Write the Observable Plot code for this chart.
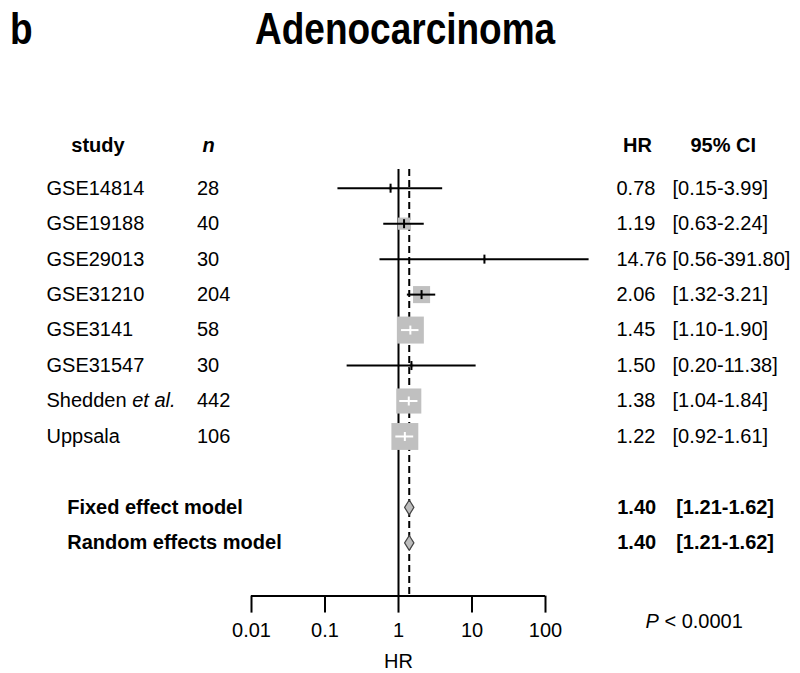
<!DOCTYPE html>
<html>
<head>
<meta charset="utf-8">
<script src="https://cdn.jsdelivr.net/npm/d3@7"></script>
<script src="https://cdn.jsdelivr.net/npm/@observablehq/plot@0.6"></script>
<style>
  html, body { margin: 0; padding: 0; background: #fff; }
  #title { position: relative; width: 800px; height: 70px; font-family: "Liberation Sans", Arial, sans-serif; font-weight: bold; color: #000; }
  #title span { position: absolute; display: inline-block; font-size: 37px; line-height: 37px; white-space: nowrap; transform: scaleY(1.2); transform-origin: 0 31.3px; }
</style>
</head>
<body>
<div id="title"><span style="left:10px;top:12.7px;">b</span><span style="left:255px;top:12.7px;">Adenocarcinoma</span></div>
<div id="chart"></div>
<script>
// ---- data ----
const studies = ["GSE14814", "GSE19188", "GSE29013", "GSE31210", "GSE3141", "GSE31547", "Shedden et al.", "Uppsala"];
const nValues = [28, 40, 30, 204, 58, 30, 442, 106];
const hrValues = [0.78, 1.19, 14.76, 2.06, 1.45, 1.50, 1.38, 1.22];
const ciLower = [0.15, 0.63, 0.56, 1.32, 1.10, 0.20, 1.04, 0.92];
const ciUpper = [3.99, 2.24, 391.80, 3.21, 1.90, 11.38, 1.84, 1.61];
const weights = [0.5, 5.8, 0.3, 11.4, 28.5, 0.6, 24.6, 28.3]; // % weight (box area)

const models = ["Fixed effect model", "Random effects model"];
const modelHr = [1.40, 1.40];
const modelLower = [1.21, 1.21];
const modelUpper = [1.62, 1.62];

const xTicks = [0.01, 0.1, 1, 10, 100];
const xLabel = "HR";
const headers = {study: "study", n: "n", hr: "HR", ci: "95% CI"};
const pText = "P < 0.0001";

// ---- layout (row units) ----
const headerRow = -1.2;
const modelRowStart = 9;
const axisRow = 11.5;
const refTop = -0.53;
const maxBox = 27; // px side of largest box
const diamondHalf = 0.21;

const fmt = v => v.toFixed(2);
const studyRows = studies.map((s, i) => ({
  study: s, n: nValues[i], hr: hrValues[i], lower: ciLower[i], upper: ciUpper[i], w: weights[i], row: i
}));
const maxW = d3.max(weights);
const xs = d3.scaleLog([xTicks[0], xTicks[xTicks.length - 1]], [251, 545]);
studyRows.forEach(d => {
  const side = maxBox * Math.sqrt(d.w / maxW);
  d.inside = xs(d.upper) - xs(d.lower) <= side;
});
const modelRows = models.map((m, i) => ({model: m, hr: modelHr[i], lower: modelLower[i], upper: modelUpper[i], row: modelRowStart + i}));
const diamondPts = modelRows.flatMap(d => [
  {model: d.model, x: d.lower, y: d.row},
  {model: d.model, x: d.hr, y: d.row - diamondHalf},
  {model: d.model, x: d.upper, y: d.row},
  {model: d.model, x: d.hr, y: d.row + diamondHalf}
]);

const vtick = {
  draw(context, size) {
    const r = Math.sqrt(size / Math.PI);
    context.moveTo(0, -r);
    context.lineTo(0, r);
  }
};

const FS = 20;
const chart = Plot.plot({
  width: 800,
  height: 603,
  marginLeft: 251,
  marginRight: 255,
  marginTop: 0,
  marginBottom: 77.4,
  style: {fontFamily: "'Liberation Sans', Arial, sans-serif", color: "#000", background: "#fff", overflow: "visible"},
  x: {type: "log", domain: [xTicks[0], xTicks[xTicks.length - 1]], range: [251, 545]},
  y: {domain: [-3.318, axisRow], range: [0, 525.6], axis: null},
  r: {type: "sqrt", domain: [0, maxW], range: [0, maxBox / Math.sqrt(Math.PI)]},
  marks: [
    // reference lines
    Plot.ruleX([1], {y1: refTop, y2: axisRow, stroke: "#000", strokeWidth: 2}),
    Plot.ruleX([modelHr[0]], {y1: refTop, y2: axisRow, stroke: "#000", strokeWidth: 2, strokeDasharray: "7,4"}),
    // weight boxes
    Plot.dot(studyRows, {x: "hr", y: "row", r: "w", symbol: "square", fill: "#c0c0c0", stroke: null}),
    // CI lines
    Plot.ruleY(studyRows, {filter: d => !d.inside, y: "row", x1: "lower", x2: "upper", stroke: "#000", strokeWidth: 2}),
    Plot.ruleY(studyRows, {filter: d => d.inside, y: "row", x1: "lower", x2: "upper", stroke: "#fff", strokeWidth: 2}),
    // estimate ticks
    Plot.dot(studyRows, {filter: d => !d.inside, x: "hr", y: "row", r: 4.5, symbol: vtick, fill: "none", stroke: "#000", strokeWidth: 2}),
    Plot.dot(studyRows, {filter: d => d.inside, x: "hr", y: "row", r: 4.5, symbol: vtick, fill: "none", stroke: "#fff", strokeWidth: 2}),
    // diamonds
    Plot.line(diamondPts, {x: "x", y: "y", z: "model", curve: "linear-closed", fill: "#bdbdbd", stroke: "#444", strokeWidth: 1.2}),
    // axis
    Plot.ruleY([axisRow], {x1: xTicks[0], x2: xTicks[xTicks.length - 1], stroke: "#000", strokeWidth: 2}),
    Plot.axisX({ticks: xTicks, tickFormat: d => String(d), tickSize: 17, tickPadding: 10, fontSize: FS, strokeWidth: 2, label: null}),
    Plot.text([xLabel], {frameAnchor: "bottom", dy: 72, fontSize: FS}),
    // left columns
    Plot.text([headers.study], {y: headerRow, frameAnchor: "left", dx: -153.5, textAnchor: "middle", fontSize: FS, fontWeight: "bold"}),
    Plot.text([headers.n], {y: headerRow, frameAnchor: "left", dx: -43, textAnchor: "middle", fontSize: FS, fontWeight: "bold", fontStyle: "italic"}),
    Plot.text(studyRows, {y: "row", text: "study", frameAnchor: "left", dx: -205, textAnchor: "start", fontSize: FS}),
    Plot.text(studyRows, {y: "row", text: d => String(d.n), frameAnchor: "left", dx: -54.5, textAnchor: "start", fontSize: FS}),
    Plot.text(modelRows, {y: "row", text: "model", frameAnchor: "left", dx: -184.3, textAnchor: "start", fontSize: FS, fontWeight: "bold"}),
    // right columns
    Plot.text([headers.hr], {y: headerRow, frameAnchor: "right", dx: 92, textAnchor: "middle", fontSize: FS, fontWeight: "bold"}),
    Plot.text([headers.ci], {y: headerRow, frameAnchor: "right", dx: 177.7, textAnchor: "middle", fontSize: FS, fontWeight: "bold"}),
    Plot.text(studyRows, {y: "row", text: d => fmt(d.hr), frameAnchor: "right", dx: 71, textAnchor: "start", fontSize: FS}),
    Plot.text(studyRows, {y: "row", text: d => `[${fmt(d.lower)}-${fmt(d.upper)}]`, frameAnchor: "right", dx: 127, textAnchor: "start", fontSize: FS}),
    Plot.text(modelRows, {y: "row", text: d => fmt(d.hr), frameAnchor: "right", dx: 71.7, textAnchor: "start", fontSize: FS, fontWeight: "bold"}),
    Plot.text(modelRows, {y: "row", text: d => `[${fmt(d.lower)}-${fmt(d.upper)}]`, frameAnchor: "right", dx: 130.7, textAnchor: "start", fontSize: FS, fontWeight: "bold"}),
    Plot.text([pText], {frameAnchor: "bottom-right", dx: 100, dy: 32, textAnchor: "start", fontSize: FS})
  ]
});

// italic fragments
const NS = "http://www.w3.org/2000/svg";
chart.querySelectorAll("text").forEach(t => {
  const s = t.textContent;
  if (s === "Shedden et al.") {
    t.textContent = "Shedden ";
    const it = document.createElementNS(NS, "tspan");
    it.setAttribute("font-style", "italic");
    it.textContent = "et al.";
    t.appendChild(it);
  } else if (s === pText) {
    t.textContent = "";
    const it = document.createElementNS(NS, "tspan");
    it.setAttribute("font-style", "italic");
    it.textContent = "P";
    t.appendChild(it);
    t.appendChild(document.createTextNode(" < 0.0001"));
  }
});
document.getElementById("chart").appendChild(chart);
</script>
</body>
</html>
